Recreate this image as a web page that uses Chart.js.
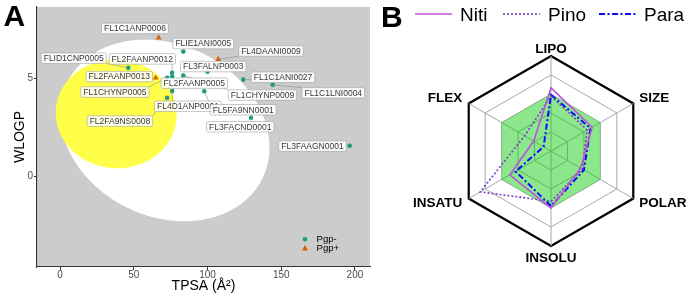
<!DOCTYPE html>
<html><head><meta charset="utf-8">
<script src="https://cdn.jsdelivr.net/npm/chart.js@4.4.1/dist/chart.umd.min.js"></script>
<style>
html,body{margin:0;padding:0;background:#fff;width:688px;height:296px;overflow:hidden;}
#a{position:absolute;left:0;top:0;}
#b{position:absolute;left:380px;top:0;}
</style></head><body>
<canvas id="a" width="380" height="296"></canvas>
<canvas id="b" width="308" height="296"></canvas>
<script>
// ================= DATA : panel A (BOILED-Egg) =================
const compounds = ['FL1C1ANP0006','FLIE1ANI0005','FL4DAANI0009','FLID1CNP0005','FL2FAANP0012','FL3FALNP0003','FL2FAANP0013','FL2FAANP0005','FL1CHYNP0005','FL1CHYNP0009','FL1C1ANI0027','FL1C1LNI0004','FL4D1ANP0001','FL5FA9NN0001','FL3FACND0001','FL2FA9NS0008','FL3FAAGN0001'];
const tpsa  = [66.9, 83.6, 107.3, 46.3, 76.0, 100.0, 64.9, 76.1, 72.7, 83.6, 124.3, 144.2, 76.1, 97.8, 129.5, 72.7, 196.4];
const wlogp = [7.07, 6.36, 5.97, 5.53, 5.28, 5.33, 5.02, 5.08, 5.02, 5.14, 4.93, 4.66, 4.34, 4.33, 2.98, 4.00, 1.55];
const pgp   = ['Pgp+','Pgp-','Pgp+','Pgp-','Pgp-','Pgp-','Pgp+','Pgp-','Pgp-','Pgp-','Pgp-','Pgp-','Pgp-','Pgp-','Pgp-','Pgp-','Pgp-'];
const pgpClasses = ['Pgp-','Pgp+'];
const xTicks = [0, 50, 100, 150, 200];
const yTicks = [0, 5];
const xRange = [-15.6, 210.2];
const yRange = [-4.65, 8.64];
// ellipses: [centre TPSA, centre WLOGP, semi-axis TPSA, semi-axis WLOGP, angle deg]
const eggWhite = [71.05, 2.33, 71.0, 4.56, -0.70];
const eggYolk  = [38.117, 3.177, 41.0305, 2.7785, -0.066326];

// ================= DATA : panel B (radar) =================
const radarAxes = ['LIPO','SIZE','POLAR','INSOLU','INSATU','FLEX'];
const seriesNames = ['Niti','Pino','Para'];
const niti = [0.665, 0.50, 0.36, 0.60, 0.50, 0.21];
const pino = [0.58, 0.44, 0.38, 0.53, 0.86, 0.32];
const para = [0.59, 0.48, 0.40, 0.58, 0.43, 0.09];
const optimalZone = [0.6, 0.6, 0.6, 0.6, 0.6, 0.6];
const radarRange = [0, 1];
const radarStep = 0.2;

// ================= STYLE =================
const FONT = '"Liberation Sans", Arial, sans-serif';
const classStyle = {
  'Pgp-': {color:'#1b9e77', shape:'circle', r:2.3},
  'Pgp+': {color:'#d95f02', shape:'triangle', r:3.4}
};
// label box centre offsets (px) relative to its point
const labelOffsets = {
  'FL1C1ANP0006':[-23.7,-9.3], 'FLIE1ANI0005':[20,-8], 'FL4DAANI0009':[52.7,-8.2],
  'FLID1CNP0005':[-54.6,-9.7], 'FL2FAANP0012':[-29.8,-13.8], 'FL3FALNP0003':[5.8,-5.2],
  'FL2FAANP0013':[-36.4,-1.2], 'FL2FAANP0005':[22,6.5], 'FL1CHYNP0005':[-52.3,14.2],
  'FL1CHYNP0009':[79.2,19.6], 'FL1C1ANI0027':[39.7,-2.3], 'FL1C1LNI0004':[60.6,8],
  'FL4D1ANP0001':[15.7,15.2], 'FL5FA9NN0001':[38.9,18.4], 'FL3FACND0001':[-10.7,9],
  'FL2FA9NS0008':[-47.3,23.3], 'FL3FAAGN0001':[-37.2,0.4]
};
const seriesStyle = {
  'Niti': {color:'#bb55d6', width:1.6, dash:[]},
  'Pino': {color:'#7440c6', width:1.6, dash:[2,2]},
  'Para': {color:'#0a0aff', width:2, dash:[6,2.5,2,2.5]}
};

// ================= PANEL A =================
function drawEllipse(ctx, xs, ys, e, color){
  const [cx, cy, a, b, ang] = e;
  const th = ang*Math.PI/180;
  ctx.beginPath();
  for(let k=0;k<=720;k++){
    const t = k*Math.PI/360;
    const x = cx + a*Math.cos(t)*Math.cos(th) - b*Math.sin(t)*Math.sin(th);
    const y = cy + a*Math.cos(t)*Math.sin(th) + b*Math.sin(t)*Math.cos(th);
    const px = xs.getPixelForValue(x), py = ys.getPixelForValue(y);
    if(k===0) ctx.moveTo(px,py); else ctx.lineTo(px,py);
  }
  ctx.closePath(); ctx.fillStyle = color; ctx.fill();
}
function roundRect(ctx,x,y,w,h,r){
  ctx.beginPath();
  ctx.moveTo(x+r,y); ctx.lineTo(x+w-r,y); ctx.quadraticCurveTo(x+w,y,x+w,y+r);
  ctx.lineTo(x+w,y+h-r); ctx.quadraticCurveTo(x+w,y+h,x+w-r,y+h);
  ctx.lineTo(x+r,y+h); ctx.quadraticCurveTo(x,y+h,x,y+h-r);
  ctx.lineTo(x,y+r); ctx.quadraticCurveTo(x,y,x+r,y); ctx.closePath();
}
const eggPlugin = {
  id:'egg',
  beforeDraw(chart){
    const {ctx, chartArea:ca, scales:{x, y}} = chart;
    ctx.save();
    ctx.beginPath(); ctx.rect(ca.left, ca.top, ca.right-ca.left, ca.bottom-ca.top); ctx.clip();
    ctx.fillStyle = '#cccccc'; ctx.fillRect(ca.left, ca.top, ca.right-ca.left, ca.bottom-ca.top);
    drawEllipse(ctx, x, y, eggWhite, '#ffffff');
    drawEllipse(ctx, x, y, eggYolk, '#ffff4a');
    ctx.restore();
  },
  afterDatasetsDraw(chart){
    const {ctx, scales:{x, y}} = chart;
    ctx.save();
    ctx.font = '8.5px ' + FONT;
    const boxes = compounds.map((name,i)=>{
      const px = x.getPixelForValue(tpsa[i]), py = y.getPixelForValue(wlogp[i]);
      const off = labelOffsets[name] || [0,-10];
      const w = ctx.measureText(name).width + 5, h = 10.5;
      const cx = px + off[0], cy = py + off[1];
      return {name, px, py, l:cx-w/2, t:cy-h/2, w, h, cx, cy};
    });
    ctx.strokeStyle = '#8a8a8a'; ctx.lineWidth = 0.6;
    boxes.forEach(b=>{
      const qx = Math.max(b.l, Math.min(b.px, b.l+b.w));
      const qy = Math.max(b.t, Math.min(b.py, b.t+b.h));
      const d = Math.hypot(qx-b.px, qy-b.py);
      if(d > 4){
        ctx.beginPath(); ctx.moveTo(b.px, b.py); ctx.lineTo(qx, qy); ctx.stroke();
      }
    });
    boxes.forEach(b=>{
      roundRect(ctx, b.l, b.t, b.w, b.h, 1.5);
      ctx.fillStyle = 'rgba(255,255,255,0.88)'; ctx.fill();
      ctx.strokeStyle = '#a0a0a0'; ctx.lineWidth = 0.6; ctx.stroke();
      ctx.fillStyle = '#3a3a3a'; ctx.textAlign = 'center'; ctx.textBaseline = 'middle';
      ctx.fillText(b.name, b.cx, b.cy + 0.5);
    });
    ctx.restore();
  },
  afterDraw(chart){
    const {ctx} = chart;
    ctx.save();
    pgpClasses.forEach((c,i)=>{
      const st = classStyle[c];
      const lx = 305, ly = 239.3 + i*9;
      ctx.fillStyle = st.color; ctx.beginPath();
      if(st.shape==='circle'){ ctx.arc(lx, ly, 2.3, 0, Math.PI*2); }
      else { ctx.moveTo(lx, ly-3.2); ctx.lineTo(lx+3, ly+2.2); ctx.lineTo(lx-3, ly+2.2); ctx.closePath(); }
      ctx.fill();
      ctx.fillStyle = '#000'; ctx.font = '9.6px ' + FONT; ctx.textAlign='left'; ctx.textBaseline='middle';
      ctx.fillText(c, 316.5, ly + 0.5);
    });
    ctx.font = 'bold 30px ' + FONT; ctx.fillStyle = '#000'; ctx.textAlign='left'; ctx.textBaseline='alphabetic';
    ctx.fillText('A', 3.5, 26);
    ctx.restore();
  }
};

const scatterSets = pgpClasses.map(c=>({
  label: c,
  data: tpsa.map((t,i)=>({x:t, y:wlogp[i], c:pgp[i]})).filter(p=>p.c===c),
  pointStyle: classStyle[c].shape,
  pointRadius: classStyle[c].r,
  backgroundColor: classStyle[c].color,
  borderColor: classStyle[c].color,
  borderWidth: 0,
  pointBorderWidth: 0
}));

new Chart(document.getElementById('a'), {
  type:'scatter',
  data:{datasets: scatterSets},
  options:{
    responsive:false, animation:false, devicePixelRatio:1,
    layout:{padding:{left:0, right:10, top:4, bottom:0}},
    plugins:{legend:{display:false}, tooltip:{enabled:false}},
    scales:{
      x:{
        type:'linear', min:xRange[0], max:xRange[1],
        afterFit: s=>{ s.height = 29; },
        afterBuildTicks: s=>{ s.ticks = xTicks.map(v=>({value:v})); },
        ticks:{color:'#4d4d4d', font:{family:FONT, size:10, lineHeight:1.0}, padding:0, maxRotation:0},
        grid:{drawOnChartArea:false, drawTicks:true, tickLength:3, color:'#333', tickColor:'#333'},
        border:{display:true, color:'#333', width:1.1},
        title:{display:true, text:'TPSA (Å²)', color:'#000', font:{family:FONT, size:14}, padding:{top:0,bottom:1}}
      },
      y:{
        type:'linear', min:yRange[0], max:yRange[1],
        afterFit: s=>{ s.width = 37; },
        afterBuildTicks: s=>{ s.ticks = yTicks.map(v=>({value:v})); },
        ticks:{color:'#4d4d4d', font:{family:FONT, size:10}, padding:1},
        grid:{drawOnChartArea:false, drawTicks:true, tickLength:3, color:'#333', tickColor:'#333'},
        border:{display:true, color:'#333', width:1.1},
        title:{display:true, text:'WLOGP', color:'#000', font:{family:FONT, size:14}, padding:{top:12,bottom:0}}
      }
    }
  },
  plugins:[eggPlugin]
});

// ================= PANEL B =================
const radarDeco = {
  id:'radarDeco',
  afterDraw(chart){
    const {ctx} = chart; const r = chart.scales.r;
    ctx.save();
    ctx.font = 'bold 13.5px ' + FONT; ctx.fillStyle = '#000'; ctx.textBaseline = 'alphabetic';
    radarAxes.forEach((lab,i)=>{
      const p = r.getPointPosition(i, r.drawingArea);
      const dx = p.x - r.xCenter, dy = p.y - r.yCenter;
      let x, y;
      if(Math.abs(dx) < 1){ ctx.textAlign='center'; x = p.x; y = dy<0 ? p.y-3.5 : p.y+16; }
      else { ctx.textAlign = dx>0 ? 'left' : 'right'; x = p.x + (dx>0 ? 6 : -6.5); y = dy<0 ? p.y-1.5 : p.y+8; }
      ctx.fillText(lab, x, y);
    });
    const starts = [35, 123, 219];
    ctx.font = '19px ' + FONT; ctx.textAlign='left'; ctx.textBaseline='alphabetic';
    seriesNames.forEach((n,i)=>{
      const st = seriesStyle[n];
      ctx.strokeStyle = st.color; ctx.lineWidth = st.width; ctx.setLineDash(st.dash);
      ctx.beginPath(); ctx.moveTo(starts[i], 14); ctx.lineTo(starts[i]+37, 14); ctx.stroke();
      ctx.setLineDash([]);
      ctx.fillStyle = '#000'; ctx.fillText(n, starts[i]+45, 20.5);
    });
    ctx.font = 'bold 30px ' + FONT; ctx.fillText('B', 1, 27);
    ctx.restore();
  }
};

const radarSeries = [niti, pino, para].map((d,i)=>{
  const st = seriesStyle[seriesNames[i]];
  return {label:seriesNames[i], data:d, borderColor:st.color, borderWidth:st.width, borderDash:st.dash,
          backgroundColor:'transparent', fill:false, pointRadius:0, tension:0};
});
radarSeries.push({label:'optimal', data:optimalZone, borderColor:'transparent', borderWidth:0,
  backgroundColor:'rgba(0,200,0,0.45)', fill:'start', pointRadius:0, order:10});

new Chart(document.getElementById('b'), {
  type:'radar',
  data:{labels: radarAxes, datasets: radarSeries},
  options:{
    responsive:false, animation:false, devicePixelRatio:1,
    layout:{padding:{left:76, right:42, top:56, bottom:50}},
    plugins:{legend:{display:false}, tooltip:{enabled:false}},
    scales:{
      r:{
        min:radarRange[0], max:radarRange[1], startAngle:0,
        ticks:{display:false, stepSize:radarStep},
        pointLabels:{display:false},
        grid:{circular:false,
          color: c => (c.tick && c.tick.value > 0.999) ? '#000' : '#a8a8a8',
          lineWidth: c => (c.tick && c.tick.value > 0.999) ? 2.2 : 1},
        angleLines:{color:'#a8a8a8', lineWidth:1}
      }
    }
  },
  plugins:[radarDeco]
});
</script>
</body></html>
